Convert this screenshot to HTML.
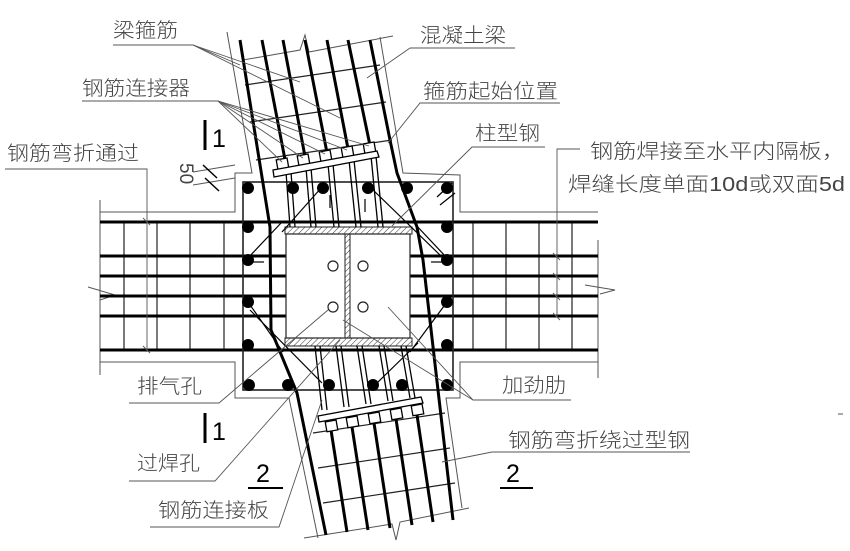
<!DOCTYPE html>
<html><head><meta charset="utf-8"><style>
html,body{margin:0;padding:0;background:#fff;}
svg{display:block;}
text{font-family:"Liberation Sans","Noto Sans CJK SC",sans-serif;fill:#444;font-weight:300;}
</style></head><body>
<svg width="850" height="551" viewBox="0 0 850 551" xmlns="http://www.w3.org/2000/svg">
<defs>
<pattern id="h" width="4" height="4" patternUnits="userSpaceOnUse" patternTransform="rotate(45)">
<line x1="0" y1="0" x2="0" y2="4" stroke="#333" stroke-width="1"/></pattern>
</defs>
<rect width="850" height="551" fill="#fff"/>

<g fill="none" stroke="#555" stroke-width="1">
<polyline points="227,32 252,173 235,173 235,212 100,212"/>
<polyline points="100,200 100,375"/>
<polyline points="100,362 235,362 235,398 289,398 318,538"/>
<polyline points="380,37 403,173 460,175 460,212 598,212"/>
<polyline points="598,240 598,378"/>
<polyline points="598,362 460,362 460,398 446,398 462,508"/>
<polyline points="243,60 300,50 305,35 309,52 393,36"/>
<polyline points="304,538 392,524 396,540 400,522 469,508"/>
<polyline points="88,287 115,295 100,300"/>
<polyline points="585,285 615,290 600,294"/>
</g>

<g stroke="#222" stroke-width="1.2">
<line x1="124" y1="222" x2="124" y2="350"/><line x1="157" y1="222" x2="157" y2="350"/>
<line x1="190" y1="222" x2="190" y2="350"/><line x1="224" y1="222" x2="224" y2="350"/>
<line x1="473" y1="222" x2="473" y2="350"/><line x1="506" y1="222" x2="506" y2="350"/>
<line x1="539" y1="222" x2="539" y2="350"/><line x1="572" y1="222" x2="572" y2="350"/>
</g>
<g stroke="#000" stroke-width="3">
<line x1="100" y1="222" x2="598" y2="222"/>
<line x1="100" y1="256" x2="322" y2="256"/><line x1="375" y1="256" x2="598" y2="256"/>
<line x1="100" y1="276" x2="598" y2="276"/>
<line x1="100" y1="296" x2="598" y2="296"/>
<line x1="100" y1="316" x2="322" y2="316"/><line x1="375" y1="316" x2="598" y2="316"/>
<line x1="100" y1="350" x2="598" y2="350"/>
</g>

<rect x="243" y="182" width="210" height="208" fill="none" stroke="#222" stroke-width="1.6"/>

<rect x="286" y="234" width="124" height="104" fill="#fff" stroke="#222" stroke-width="1.2"/>
<rect x="285" y="227" width="127" height="7" fill="url(#h)" stroke="#222" stroke-width="1"/>
<rect x="285" y="338" width="127" height="8" fill="url(#h)" stroke="#222" stroke-width="1"/>
<rect x="345" y="234" width="5" height="104" fill="url(#h)" stroke="#222" stroke-width="1"/>
<g fill="#fff" stroke="#222" stroke-width="1.2">
<circle cx="333" cy="266" r="5"/><circle cx="363" cy="266" r="5"/>
<circle cx="333" cy="307" r="5"/><circle cx="363" cy="307" r="5"/>
</g>

<g stroke="#222" stroke-width="1.2">
<line x1="245" y1="85" x2="380" y2="65"/>
<line x1="250" y1="122" x2="386" y2="102"/>
<line x1="256" y1="160" x2="392" y2="140"/>
<line x1="318" y1="468" x2="450" y2="448" />
<line x1="313" y1="433" x2="445" y2="413"/>
<line x1="323" y1="503" x2="455" y2="483"/>
</g>

<g stroke="#000" stroke-width="3" fill="none">
<polyline points="240,40 270,227 271,330 297,393 326,535"/>
<polyline points="370,40 390,140 397,173 417,227 423,260 453,520"/>
<line x1="262" y1="40" x2="287" y2="170"/>
<line x1="283" y1="40" x2="307" y2="167"/>
<line x1="305" y1="40" x2="329" y2="163"/>
<line x1="327" y1="40" x2="350" y2="159"/>
<line x1="348" y1="40" x2="372" y2="155"/>
</g>
<g stroke="#000" stroke-width="1.3">
<line x1="286" y1="172" x2="290" y2="227"/><line x1="291" y1="172" x2="295" y2="227"/>
<line x1="306" y1="168" x2="311" y2="227"/><line x1="311" y1="168" x2="316" y2="227"/>
<line x1="328" y1="164" x2="334" y2="227"/><line x1="333" y1="164" x2="339" y2="227"/>
<line x1="349" y1="160" x2="356" y2="227"/><line x1="354" y1="160" x2="361" y2="227"/>
<line x1="371" y1="156" x2="378" y2="227"/><line x1="376" y1="156" x2="383" y2="227"/>
</g>
<g fill="#fff" stroke="#000" stroke-width="1.3">
<rect x="277" y="159" width="11" height="10" transform="rotate(-10 282 164)"/>
<rect x="298" y="155" width="11" height="10" transform="rotate(-10 303 160)"/>
<rect x="320" y="151" width="11" height="10" transform="rotate(-10 325 156)"/>
<rect x="342" y="147" width="11" height="10" transform="rotate(-10 347 152)"/>
<rect x="364" y="143" width="11" height="10" transform="rotate(-10 369 148)"/>
<polygon points="273,170 377,151 379,157 274,177"/>
</g>

<g stroke="#000" stroke-width="1.3">
<line x1="315" y1="346" x2="322" y2="410"/><line x1="320" y1="346" x2="327" y2="410"/>
<line x1="336" y1="346" x2="344" y2="407"/><line x1="341" y1="346" x2="349" y2="407"/>
<line x1="357" y1="346" x2="366" y2="404"/><line x1="362" y1="346" x2="371" y2="404"/>
<line x1="379" y1="346" x2="388" y2="401"/><line x1="384" y1="346" x2="393" y2="401"/>
<line x1="401" y1="346" x2="410" y2="398"/><line x1="406" y1="346" x2="415" y2="398"/>
</g>
<g stroke="#000" stroke-width="3">
<line x1="331" y1="430" x2="347" y2="532"/>
<line x1="352" y1="427" x2="368" y2="530"/>
<line x1="374" y1="423" x2="390" y2="528"/>
<line x1="396" y1="419" x2="412" y2="525"/>
<line x1="417" y1="415" x2="433" y2="522"/>
</g>
<g fill="#fff" stroke="#000" stroke-width="1.3">
<polygon points="318,416 421,397 423,403 319,422"/>
<rect x="326" y="421" width="11" height="10" transform="rotate(-10 331 426)"/>
<rect x="347" y="417" width="11" height="10" transform="rotate(-10 352 422)"/>
<rect x="369" y="413" width="11" height="10" transform="rotate(-10 374 418)"/>
<rect x="391" y="409" width="11" height="10" transform="rotate(-10 396 414)"/>
<rect x="412" y="405" width="11" height="10" transform="rotate(-10 417 410)"/>
</g>

<g stroke="#000" stroke-width="1.2" fill="none">
<line x1="248" y1="258" x2="281" y2="223"/>
<line x1="248" y1="302" x2="283" y2="352"/>
<line x1="322" y1="187" x2="282" y2="232"/>
<line x1="370" y1="187" x2="440" y2="255"/>
<line x1="447" y1="258" x2="414" y2="223"/>
<line x1="447" y1="302" x2="410" y2="352"/>
<line x1="250" y1="310" x2="322" y2="383"/>
<line x1="377" y1="383" x2="418" y2="343"/>
<line x1="248" y1="262" x2="264" y2="262"/>
<line x1="447" y1="262" x2="431" y2="262"/>
<line x1="437" y1="197" x2="452" y2="183"/>
<line x1="440" y1="205" x2="455" y2="193"/>
<line x1="330" y1="195" x2="330" y2="208"/>
<line x1="365" y1="199" x2="365" y2="212"/>
</g>
<g fill="#000">
<circle cx="248" cy="188" r="6"/><circle cx="293" cy="188" r="6"/><circle cx="323" cy="188" r="6"/>
<circle cx="368" cy="188" r="6"/><circle cx="407" cy="188" r="6"/><circle cx="447" cy="188" r="6"/>
<circle cx="248" cy="227" r="6"/><circle cx="248" cy="260" r="6"/><circle cx="248" cy="302" r="6"/><circle cx="248" cy="345" r="6"/>
<circle cx="447" cy="227" r="6"/><circle cx="447" cy="260" r="6"/><circle cx="447" cy="302" r="6"/><circle cx="447" cy="345" r="6"/>
<circle cx="249" cy="385" r="6"/><circle cx="288" cy="385" r="6"/><circle cx="329" cy="385" r="6"/>
<circle cx="373" cy="385" r="6"/><circle cx="402" cy="385" r="6"/><circle cx="447" cy="385" r="6"/>
</g>

<g stroke="#555" stroke-width="0.9" fill="none">
<polyline points="113,45 193,45 240,65"/><line x1="193" y1="45" x2="300" y2="82"/><line x1="193" y1="45" x2="340" y2="118"/>
<line x1="410" y1="48" x2="515" y2="48"/><line x1="410" y1="48" x2="367" y2="78"/>
<polyline points="82,101 218,101 282,162"/><line x1="218" y1="101" x2="303" y2="158"/><line x1="218" y1="101" x2="325" y2="154"/><line x1="218" y1="101" x2="347" y2="150"/><line x1="218" y1="101" x2="369" y2="146"/>
<polyline points="560,103 420,103 388,143"/>
<polyline points="545,147 472,147 392,226"/>
<polyline points="5,169 147,169 147,352"/>
<polyline points="580,149 557,149 557,317"/>
<polyline points="129,403 219,403 328,310"/>
<polyline points="571,400 473,400 388,307"/><line x1="473" y1="400" x2="343" y2="320"/>
<polyline points="129,481 215,481 340,340"/>
<polyline points="150,527 279,527 322,400"/>
<polyline points="690,452 492,452 442,462"/>
<line x1="193" y1="172" x2="235" y2="165"/><line x1="193" y1="185" x2="235" y2="178"/>
<line x1="143" y1="218" x2="150" y2="225"/><line x1="143" y1="346" x2="150" y2="353"/>
<line x1="553" y1="253" x2="560" y2="260"/><line x1="553" y1="273" x2="560" y2="280"/><line x1="553" y1="293" x2="560" y2="300"/><line x1="553" y1="313" x2="560" y2="320"/>
</g>
<g stroke="#000" stroke-width="1.5">
<line x1="203" y1="165" x2="217" y2="178"/><line x1="205" y1="178" x2="219" y2="191"/>
</g>
<g stroke="#000" stroke-width="3">
<line x1="205" y1="120" x2="205" y2="150"/>
<line x1="205" y1="413" x2="205" y2="443"/>
</g>
<g stroke="#000" stroke-width="2">
<line x1="248" y1="488" x2="283" y2="488"/>
<line x1="500" y1="488" x2="533" y2="488"/>
</g>

<g font-size="20">
<text x="113" y="37" textLength="65" lengthAdjust="spacingAndGlyphs">梁箍筋</text>
<text x="420" y="42" textLength="86" lengthAdjust="spacingAndGlyphs">混凝土梁</text>
<text x="82" y="95" textLength="108" lengthAdjust="spacingAndGlyphs">钢筋连接器</text>
<text x="423" y="98" textLength="135" lengthAdjust="spacingAndGlyphs">箍筋起始位置</text>
<text x="475" y="140" textLength="65" lengthAdjust="spacingAndGlyphs">柱型钢</text>
<text x="7" y="160" textLength="132" lengthAdjust="spacingAndGlyphs">钢筋弯折通过</text>
<text x="590" y="158" textLength="255" lengthAdjust="spacingAndGlyphs">钢筋焊接至水平内隔板，</text>
<text x="568" y="191" textLength="277" lengthAdjust="spacingAndGlyphs">焊缝长度单面10d或双面5d</text>
<text x="137" y="393" textLength="65" lengthAdjust="spacingAndGlyphs">排气孔</text>
<text x="502" y="392" textLength="64" lengthAdjust="spacingAndGlyphs">加劲肋</text>
<text x="137" y="470" textLength="63" lengthAdjust="spacingAndGlyphs">过焊孔</text>
<text x="158" y="517" textLength="111" lengthAdjust="spacingAndGlyphs">钢筋连接板</text>
<text x="508" y="447" textLength="182" lengthAdjust="spacingAndGlyphs">钢筋弯折绕过型钢</text>
</g>
<g font-size="25">
<text x="212" y="147" style="fill:#000">1</text>
<text x="212" y="440" style="fill:#000">1</text>
<text x="256" y="482" style="fill:#000">2</text>
<text x="506" y="482" style="fill:#000">2</text>
</g>
<text x="0" y="0" font-size="19" transform="translate(180,163) rotate(90)">50</text>
<rect x="838" y="413" width="5" height="2" fill="#aaa"/>
</svg>
</body></html>
